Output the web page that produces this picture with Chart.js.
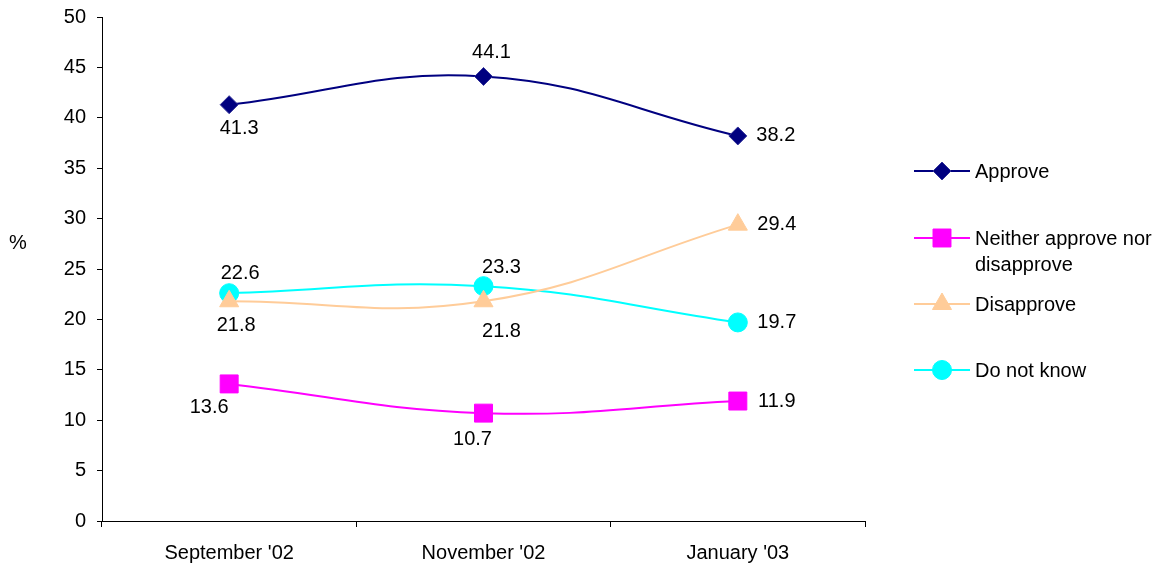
<!DOCTYPE html>
<html><head><meta charset="utf-8">
<script src="https://cdn.jsdelivr.net/npm/chart.js@4.4.0/dist/chart.umd.min.js"></script>
<style>html,body{margin:0;padding:0;background:#fff}#wrap{width:1162px;height:567px}</style>
</head><body><div id="wrap"><canvas id="c" width="1162" height="567"></canvas></div>
<script>
const categories = ["September '02", "November '02", "January '03"];
const approve = [41.3, 44.1, 38.2];
const neither = [13.6, 10.7, 11.9];
const disapprove = [21.8, 21.8, 29.4];
const doNotKnow = [22.6, 23.3, 19.7];
const seriesNames = ["Approve", "Neither approve nor disapprove", "Disapprove", "Do not know"];
const yTicks = [0,5,10,15,20,25,30,35,40,45,50];

// label offsets (dx, dy) relative to points, styling only
const labelOffsets = [
  [[10,24],[8,-24],[38,0]],
  [[-20,24],[-11,26],[39,0]],
  [[7,24],[18,30],[39,0]],
  [[11,-20],[18,-19],[39,0]]
];
const FONT = '"Liberation Sans", Arial, sans-serif';
const FS = 20;

function drawMarker(ctx, style, r, x, y) {
  Chart.helpers.drawPoint(ctx, {pointStyle: style, radius: r, borderWidth: ctx.lineWidth, rotation: 0}, x, y);
}

const labelPlugin = {
  id: 'lbl',
  afterDatasetsDraw(chart) {
    const ctx = chart.ctx;
    ctx.save();
    ctx.font = FS + 'px ' + FONT;
    ctx.fillStyle = '#000';
    ctx.textAlign = 'center';
    ctx.textBaseline = 'middle';
    chart.data.datasets.forEach((ds, i) => {
      const meta = chart.getDatasetMeta(i);
      meta.data.forEach((pt, j) => {
        const off = labelOffsets[i][j];
        ctx.fillText(ds.data[j].toFixed(1), pt.x + off[0], pt.y + off[1]);
      });
    });
    // y title
    ctx.fillText('%', 18, 243);
    // legend
    const rows = [[171, ['Approve']], [238, ['Neither approve nor', 'disapprove']], [304, ['Disapprove']], [370, ['Do not know']]];
    ctx.textAlign = 'left';
    chart.data.datasets.forEach((ds, i) => {
      const y = rows[i][0];
      ctx.strokeStyle = ds.borderColor;
      ctx.lineWidth = 2;
      ctx.beginPath(); ctx.moveTo(914, y); ctx.lineTo(970, y); ctx.stroke();
      ctx.fillStyle = ds.pointBackgroundColor;
      ctx.strokeStyle = ds.pointBorderColor;
      ctx.lineWidth = ds.pointBorderWidth;
      drawMarker(ctx, ds.pointStyle, ds.pointRadius, 942, y);
      ctx.fillStyle = '#000';
      rows[i][1].forEach((t, k) => ctx.fillText(t, 975, y + 1 + k * 26));
    });
    ctx.restore();
  }
};

function mk(label, data, color, style, radius, fill, border) {
  return {
    label, data,
    borderColor: color, backgroundColor: fill,
    borderWidth: 2,
    pointStyle: style, pointRadius: radius, pointHoverRadius: radius,
    pointBackgroundColor: fill, pointBorderColor: border, pointBorderWidth: 1,
    tension: 0.42, fill: false
  };
}

new Chart(document.getElementById('c'), {
  type: 'line',
  data: {
    labels: categories,
    datasets: [
      mk(seriesNames[0], approve, '#000080', 'rectRot', 9, '#000080', '#333399'),
      mk(seriesNames[1], neither, '#FF00FF', 'rect', 12.7, '#FF00FF', '#FF00FF'),
      mk(seriesNames[2], disapprove, '#FFCC99', 'triangle', 11, '#FFCC99', '#FFCC99'),
      mk(seriesNames[3], doNotKnow, '#00FFFF', 'circle', 9.5, '#00FFFF', '#00FFFF')
    ]
  },
  options: {
    responsive: false,
    animation: false,
    events: [],
    layout: {padding: {left: 0, right: 297, top: 17, bottom: 0}},
    plugins: {legend: {display: false}, tooltip: {enabled: false}},
    scales: {
      x: {
        offset: true,
        grid: {offset: true, drawOnChartArea: false, drawTicks: true, tickLength: 6, color: '#000'},
        border: {display: true, color: '#000', width: 1},
        ticks: {color: '#000', font: {family: FONT, size: FS}, padding: 14, maxRotation: 0},
        afterFit(s) { s.height = 46; s.paddingLeft = 0; s.paddingRight = 0; }
      },
      y: {
        min: 0, max: 50,
        afterBuildTicks(s) { s.ticks = yTicks.map(v => ({value: v})); },
        grid: {drawOnChartArea: false, drawTicks: true, tickLength: 5, color: '#000'},
        border: {display: true, color: '#000', width: 1},
        ticks: {color: '#000', font: {family: FONT, size: FS}, padding: 11},
        afterFit(s) { s.width = 102; s.paddingTop = 0; s.paddingBottom = 0; }
      }
    }
  },
  plugins: [labelPlugin]
});
</script></body></html>
